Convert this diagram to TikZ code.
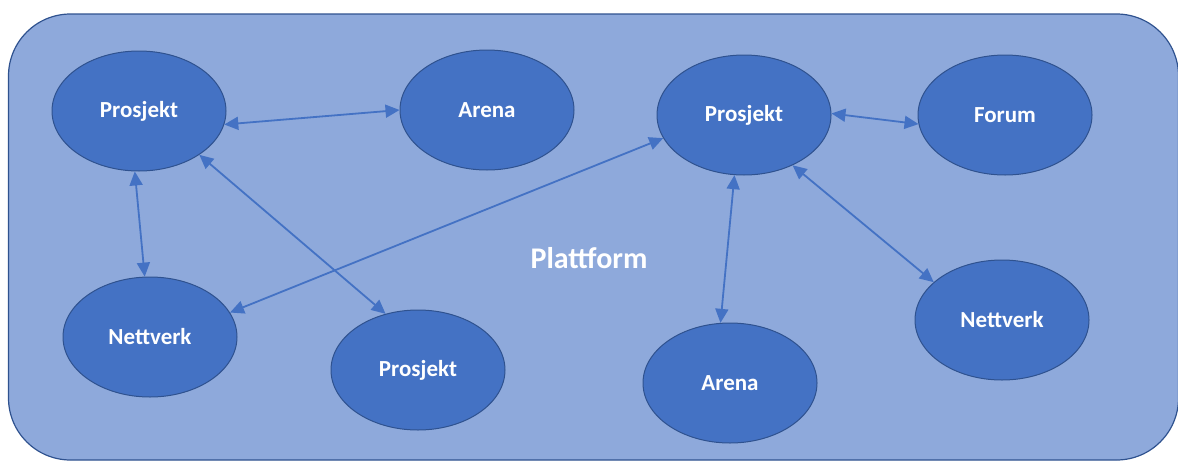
\documentclass[tikz,border=0pt]{standalone}
\usepackage{fontspec}
\setmainfont{Carlito}
\usetikzlibrary{shapes.geometric,arrows.meta}
\definecolor{platfill}{HTML}{8EA9DB}
\definecolor{darkedge}{HTML}{2F528F}
\definecolor{nodefill}{HTML}{4472C4}
\tikzset{
  circnode/.style={ellipse, draw=darkedge, line width=1pt, fill=nodefill,
    minimum width=174pt, minimum height=120pt, inner sep=0pt,
    text=white, font=\fontsize{23}{26}\selectfont\bfseries},
  link/.style={draw=nodefill, line width=1.8pt,
    {Triangle[length=14pt,width=13pt]}-{Triangle[length=14pt,width=13pt]}},
}
\begin{document}
\begin{tikzpicture}[x=1pt,y=-1pt]
\useasboundingbox (0,0) rectangle (1178,461);
\node[draw=darkedge, line width=1.2pt, fill=platfill, rounded corners=62pt,
  minimum width=1170pt, minimum height=446pt, inner sep=0pt] (plat) at (593.5,237) {};
\node[text=white, font=\fontsize{30}{33}\selectfont\bfseries] (lbl) at (589,258) {Plattform};

\node[circnode] (P1) at (139,111) {Prosjekt};
\node[circnode] (A1) at (487,110) {Arena};
\node[circnode] (P2) at (744,115) {Prosjekt};
\node[circnode] (F)  at (1005,115) {Forum};
\node[circnode] (N1) at (150,337) {Nettverk};
\node[circnode] (P3) at (418,370) {Prosjekt};
\node[circnode] (A2) at (730,383) {Arena};
\node[circnode] (N2) at (1002,320) {Nettverk};

\draw[link] (P1.-9) -- (A1.180);
\draw[link] (P1.-94) -- (N1.95);
\draw[link] (P1.-36) -- (P3.120);
\draw[link] (N1.17) -- (P2.196);
\draw[link] (P2.1) -- (F.186);
\draw[link] (P2.-99) -- (A2.99);
\draw[link] (P2.-46) -- (N2.151);
\end{tikzpicture}
\end{document}
